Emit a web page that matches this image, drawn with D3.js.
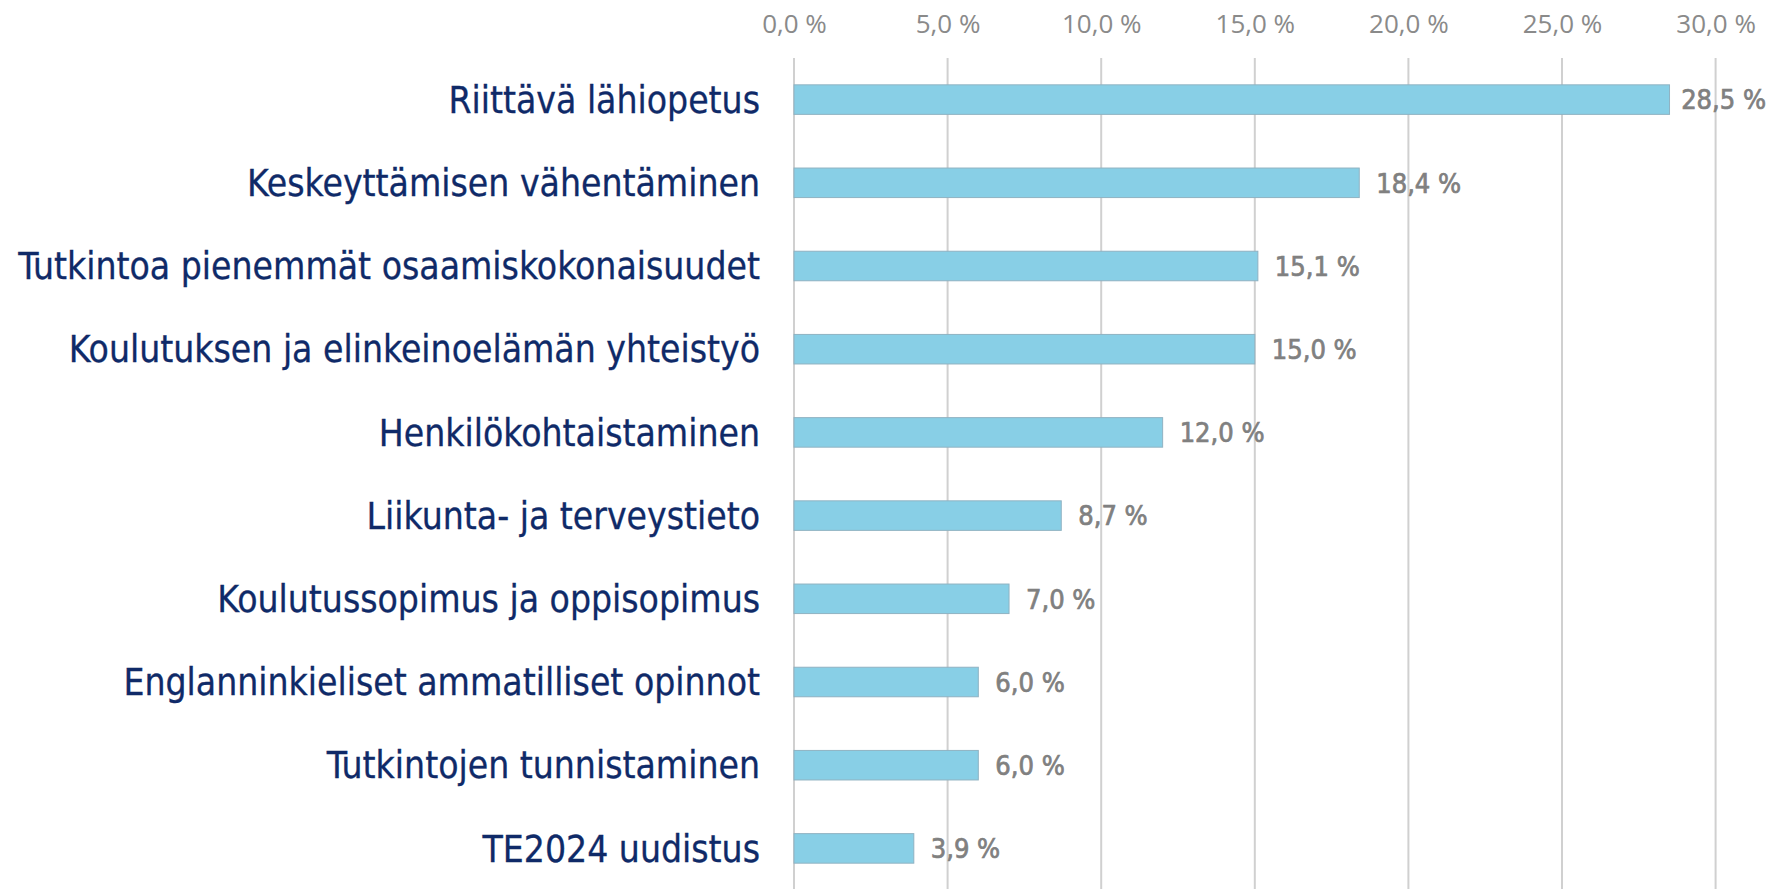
<!DOCTYPE html>
<html>
<head>
<meta charset="utf-8">
<script src="https://cdn.jsdelivr.net/npm/d3@7"></script>
<style>
  html, body { margin: 0; padding: 0; background: #ffffff; }
  svg { display: block; }
</style>
</head>
<body>
<svg id="chart" width="1772" height="889"></svg>
<script>
const categories = [
  "Riittävä lähiopetus",
  "Keskeyttämisen vähentäminen",
  "Tutkintoa pienemmät osaamiskokonaisuudet",
  "Koulutuksen ja elinkeinoelämän yhteistyö",
  "Henkilökohtaistaminen",
  "Liikunta- ja terveystieto",
  "Koulutussopimus ja oppisopimus",
  "Englanninkieliset ammatilliset opinnot",
  "Tutkintojen tunnistaminen",
  "TE2024 uudistus"
];
const values = [28.5, 18.4, 15.1, 15.0, 12.0, 8.7, 7.0, 6.0, 6.0, 3.9];
const tickValues = [0, 5, 10, 15, 20, 25, 30];

const W = 1772, H = 889;
const svg = d3.select("#chart");

const fi = d3.formatLocale({decimal: ",", thousands: "\u00a0", grouping: [3], currency: ["", "\u00a0€"]});
const fmt = v => fi.format(".1f")(v) + " %";

const x = d3.scaleLinear().domain([0, 30]).range([794, 1715.6]);
const y = d3.scaleBand().domain(categories).range([58, 890]).paddingInner(0.645).paddingOuter(0.3225);

// gridlines
svg.append("g").selectAll("line").data(tickValues).join("line")
  .attr("x1", d => x(d)).attr("x2", d => x(d))
  .attr("y1", 58).attr("y2", H)
  .attr("stroke", "#d0d0d0").attr("stroke-width", 2);

// top axis labels
const axis = d3.axisTop(x).tickValues(tickValues).tickFormat(fmt).tickSize(0).tickPadding(0);
const ga = svg.append("g").attr("transform", "translate(0,33)").call(axis);
ga.select(".domain").remove();
ga.selectAll("text")
  .attr("dy", 0)
  .attr("font-family", "'Open Sans', sans-serif")
  .attr("font-size", 26)
  .attr("fill", "#8a8a8a");

// bars
svg.append("g").selectAll("rect").data(values).join("rect")
  .attr("x", x(0))
  .attr("y", (d, i) => y(categories[i]))
  .attr("width", d => x(d) - x(0))
  .attr("height", y.bandwidth())
  .attr("fill", "#88cfe6")
  .attr("stroke", "#8fb2c2")
  .attr("stroke-width", 1);

// category labels
const catG = svg.append("g");
const catText = catG.selectAll("text").data(categories).join("text")
  .attr("x", 760)
  .attr("y", d => y(d) + y.bandwidth() / 2)
  .attr("dy", "0.36em")
  .attr("text-anchor", "end")
  .attr("font-family", "'DejaVu Sans Condensed', 'DejaVu Sans', sans-serif")
  .attr("font-size", 33)
  .attr("fill", "#0f2a68")
  .attr("stroke", "#0f2a68")
  .attr("stroke-width", 0.3)
  .text(d => d);
// fit longest label to measured width
let maxW = 0;
catText.each(function() { maxW = Math.max(maxW, this.getComputedTextLength()); });
const fs = 33 * 742 / maxW;
catText.attr("font-size", fs);

// value labels
svg.append("g").selectAll("text").data(values).join("text")
  .attr("y", (d, i) => y(categories[i]) + y.bandwidth() / 2)
  .attr("dy", "0.36em")
  .attr("font-family", "'DejaVu Sans Condensed', 'DejaVu Sans', sans-serif")
  .attr("font-size", 27)
  .attr("fill", "#808080")
  .attr("stroke", "#808080")
  .attr("stroke-width", 0.7)
  .text(d => fmt(d))
  .attr("x", function(d) {
    const w = this.getComputedTextLength();
    return Math.min(x(d) + 17, W - 6 - w);
  });
</script>
</body>
</html>
